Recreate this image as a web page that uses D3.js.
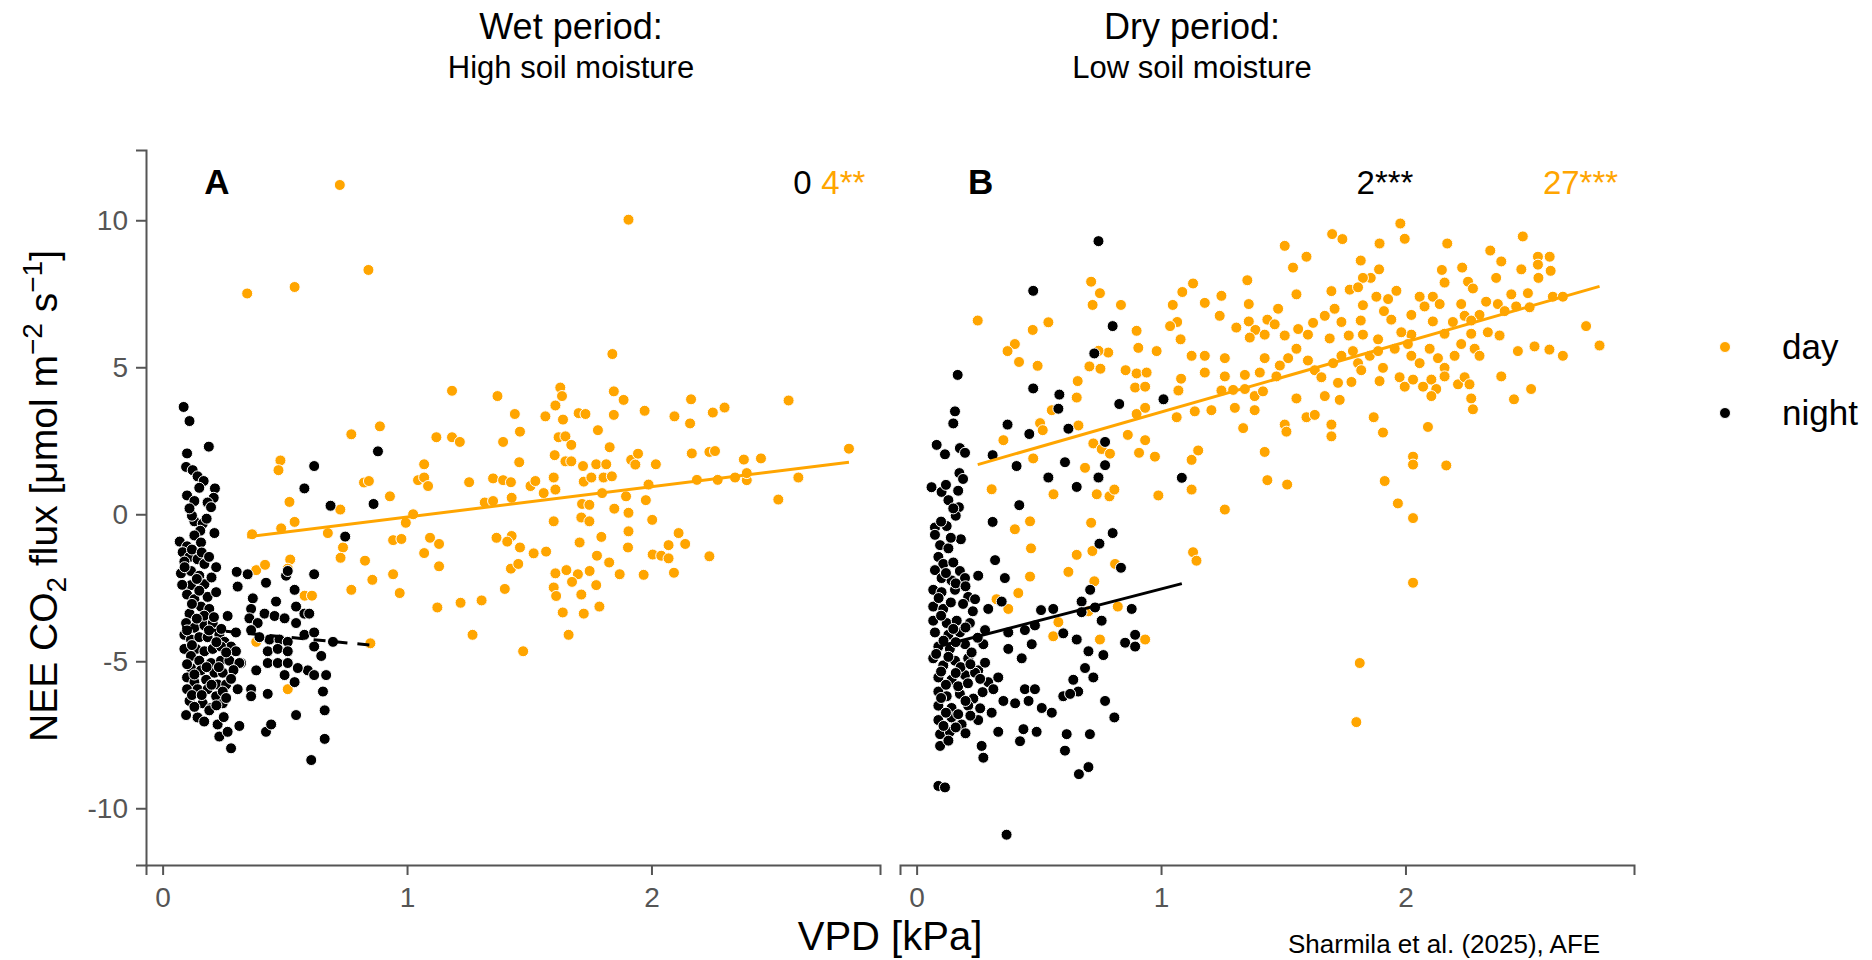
<!DOCTYPE html>
<html>
<head>
<meta charset="utf-8">
<script src="https://cdn.jsdelivr.net/npm/d3@7"></script>
<style>
    body { margin: 0; background: #fff; }
    text { font-family: "Liberation Sans", Arial, sans-serif; }
</style>
</head>
<body>
<svg id="chart" width="1872" height="960"></svg>
<script>
const periods = ['day', 'night']
const colours = { day: '#FFA500', night: '#000000' }
const xTicks = [0, 1, 2]
const yTicks = [-10, -5, 0, 5, 10]

// [VPD kPa, NEE umol m-2 s-1]
const nightWet = [[0.086,3.65],[0.11,3.17],[0.189,2.3],[0.10,2.07],[0.096,1.61],[0.123,1.5],[0.143,1.29],[0.168,1.13],[0.214,0.88],[0.209,0.56],[0.10,0.64],[0.13,0.45],[0.184,0.4],[0.198,0.24],[0.13,-0.24],[0.164,-0.32],[0.154,-0.56],[0.212,-0.64],[0.13,-0.72],[0.07,-0.93],[0.10,-1.09],[0.157,-0.96],[0.082,-1.29],[0.11,-1.45],[0.089,-1.61],[0.143,-1.53],[0.171,-1.69],[0.075,-2.01],[0.116,-1.93],[0.15,-2.09],[0.219,-1.8],[0.116,-2.41],[0.171,-2.38],[0.10,-2.73],[0.13,-2.89],[0.184,-2.81],[0.219,-2.65],[0.157,-3.14],[0.191,-3.22],[0.11,-3.38],[0.096,-3.7],[0.13,-3.86],[0.171,-3.78],[0.205,-3.7],[0.266,-3.46],[0.232,-4.1],[0.089,-4.1],[0.116,-4.26],[0.15,-4.18],[0.184,-4.18],[0.253,-4.34],[0.28,-4.5],[0.30,-4.02],[0.089,-4.58],[0.137,-4.58],[0.171,-4.66],[0.205,-4.58],[0.239,-4.5],[0.30,-4.66],[0.321,-5.06],[0.116,-4.82],[0.15,-4.98],[0.198,-5.06],[0.239,-4.98],[0.273,-4.98],[0.116,-5.23],[0.157,-5.31],[0.212,-5.39],[0.246,-5.39],[0.10,-5.55],[0.13,-5.71],[0.178,-5.63],[0.225,-5.79],[0.26,-5.79],[0.10,-5.95],[0.143,-5.95],[0.184,-5.95],[0.219,-6.19],[0.246,-6.03],[0.307,-5.95],[0.11,-6.35],[0.164,-6.43],[0.198,-6.59],[0.246,-6.43],[0.096,-6.83],[0.143,-6.91],[0.191,-6.67],[0.225,-7.15],[0.232,-7.56],[0.266,-7.4],[0.28,-7.96],[0.314,-7.2],[0.303,-1.96],[0.348,-2.04],[0.307,-2.46],[0.369,-2.86],[0.423,-2.33],[0.464,-2.97],[0.505,-2.09],[0.54,-2.57],[0.512,-1.93],[0.546,-3.14],[0.362,-3.22],[0.417,-3.38],[0.458,-3.46],[0.499,-3.54],[0.58,-3.38],[0.60,-3.38],[0.62,-2.04],[0.355,-3.54],[0.389,-3.7],[0.437,-4.26],[0.478,-4.26],[0.512,-4.34],[0.362,-3.94],[0.396,-4.18],[0.43,-4.66],[0.471,-4.58],[0.512,-4.66],[0.546,-3.7],[0.58,-4.1],[0.62,-4.02],[0.62,-4.5],[0.649,-4.82],[0.594,-5.31],[0.62,-5.47],[0.669,-5.47],[0.383,-5.31],[0.43,-5.06],[0.471,-5.06],[0.512,-5.06],[0.553,-5.23],[0.362,-5.95],[0.43,-6.11],[0.499,-5.47],[0.54,-5.71],[0.656,-6.03],[0.663,-6.67],[0.663,-7.64],[0.546,-6.83],[0.423,-7.4],[0.444,-7.15],[0.608,-8.36],[0.362,-6.19],[0.314,-5.06],[0.697,-4.34],[0.58,0.88],[0.62,1.64],[0.687,0.29],[0.747,-0.76],[0.863,0.35],[0.881,2.14],
    [0.12,-1.2],[0.16,-1.3],[0.19,-1.45],[0.09,-1.8],[0.14,-2.2],[0.2,-2.15],[0.08,-2.4],[0.15,-2.6],[0.12,-3.05],[0.17,-3.45],[0.21,-3.5],[0.14,-3.55],[0.1,-3.95],[0.19,-3.95],[0.24,-3.9],[0.12,-4.45],[0.22,-4.35],[0.26,-4.7],[0.1,-5.1],[0.18,-5.2],[0.23,-5.2],[0.29,-5.3],[0.13,-5.45],[0.2,-5.8],[0.28,-5.6],[0.12,-6.15],[0.16,-6.15],[0.26,-6.25],[0.13,-6.55],[0.22,-6.5],[0.17,-7.05],[0.25,-6.9],[0.12,-0.05],[0.15,0.9],[0.11,0.2],[0.18,-0.15]]

const dayWet = [[0.725,11.2],[0.346,7.51],[0.54,7.73],[0.842,8.31],[1.184,4.2],[1.37,4.02],[1.441,3.41],[0.772,2.72],[0.889,2.99],[1.12,2.62],[1.184,2.62],[1.216,2.46],[1.393,2.46],[1.462,2.81],[0.482,1.83],[0.474,1.5],[1.07,1.7],[1.459,1.77],[0.824,1.08],[0.844,1.13],[1.045,1.16],[1.07,1.25],[1.086,0.96],[1.254,1.09],[1.352,1.22],[1.393,1.16],[1.425,1.09],[0.519,0.42],[0.727,0.16],[0.93,0.61],[1.318,0.4],[1.352,0.45],[1.428,0.56],[0.366,-0.68],[0.485,-0.48],[0.54,-0.26],[0.676,-0.64],[0.995,-0.29],[1.025,0.0],[0.943,-0.88],[0.977,-0.84],[1.094,-0.8],[1.131,-1.01],[1.366,-0.8],[1.428,-0.74],[1.41,-0.93],[1.462,-1.13],[0.738,-1.13],[0.728,-1.48],[0.828,-1.58],[1.07,-1.32],[0.383,-1.9],[0.419,-1.72],[0.522,-1.54],[0.512,-1.85],[0.943,-2.04],[0.858,-2.23],[1.131,-1.77],[1.425,-1.85],[1.455,-1.69],[0.772,-2.57],[0.97,-2.68],[1.40,-2.54],[0.581,-2.77],[0.611,-2.77],[1.124,-3.17],[1.219,-3.01],[1.305,-2.93],[1.268,-4.1],[0.383,-4.34],[0.85,-4.39],[0.512,-5.95],[1.475,-4.66],
    [1.906,10.02],[1.84,5.45],[1.627,4.31],[1.634,4.02],[1.846,4.18],[1.886,3.89],[2.162,3.91],[2.299,3.63],[2.561,3.87],[1.607,3.7],[1.566,3.33],[1.638,3.22],[1.702,3.44],[1.73,3.41],[1.846,3.38],[1.972,3.52],[2.094,3.33],[2.251,3.46],[2.158,3.09],[1.781,2.86],[1.62,2.62],[1.648,2.65],[1.672,2.36],[1.829,2.28],[1.604,2.01],[1.648,1.8],[1.672,1.8],[1.72,1.64],[1.774,1.7],[1.815,1.7],[1.917,1.85],[1.945,2.06],[1.934,1.69],[2.018,1.7],[2.165,2.07],[2.237,2.12],[2.26,2.15],[2.378,1.86],[2.448,1.9],[2.808,2.23],[1.6,1.25],[1.723,1.11],[1.754,1.25],[1.804,1.25],[1.838,1.29],[1.505,0.96],[1.525,1.13],[1.559,0.72],[1.607,0.84],[1.798,0.72],[1.896,0.61],[1.988,1.01],[2.186,1.17],[2.271,1.17],[2.342,1.25],[2.39,1.16],[2.39,1.4],[2.601,1.25],[1.716,0.35],[1.746,0.32],[1.848,0.19],[1.977,0.48],[1.906,0.05],[2.519,0.5],[1.6,-0.24],[1.713,-0.11],[1.746,-0.24],[2.003,-0.19],[1.906,-0.58],[1.795,-0.77],[1.518,-1.33],[1.569,-1.27],[1.706,-0.96],[1.904,-1.13],[2.111,-0.64],[2.138,-1.01],[2.07,-1.05],[1.777,-1.41],[1.827,-1.64],[2.005,-1.37],[2.04,-1.41],[2.07,-1.5],[2.237,-1.43],[1.607,-2.01],[1.652,-1.9],[1.699,-2.04],[1.747,-1.93],[1.774,-2.41],[1.87,-2.04],[1.968,-2.06],[2.092,-1.99],[1.6,-2.49],[1.675,-2.3],[1.61,-2.78],[1.713,-2.73],[1.637,-3.34],[1.723,-3.38],[1.787,-3.14],[1.661,-4.1]]

const nightDry = [[0.744,9.29],[0.477,7.6],[0.168,4.74],[0.802,6.4],[0.727,5.47],[0.477,4.28],[0.584,4.07],[0.58,3.59],[1.01,3.91],[0.829,3.75],[0.157,3.5],[0.15,3.09],[0.372,3.05],[0.461,2.73],[0.621,2.91],[0.771,2.46],[0.082,2.36],[0.116,2.04],[0.177,2.25],[0.198,2.09],[0.311,2.01],[0.409,1.64],[0.607,1.77],[0.771,1.67],[0.175,1.4],[0.539,1.25],[0.744,1.25],[1.085,1.24],[0.061,0.92],[0.102,0.76],[0.17,0.8],[0.655,0.93],[0.13,0.48],[0.173,0.24],[0.42,0.31],[0.311,-0.26],[0.075,-0.45],[0.123,-0.4],[0.181,-0.85],[0.802,-0.64],[0.748,-1.0],[0.096,-1.05],[0.13,-1.16],[0.321,-1.56],[0.836,-1.82],[0.089,-1.45],[0.109,-1.69],[0.15,-1.64],[0.177,-1.93],[0.075,-1.9],[0.102,-2.17],[0.143,-2.25],[0.198,-2.17],[0.252,-2.09],[0.361,-2.17],[0.068,-2.57],[0.102,-2.65],[0.157,-2.57],[0.211,-2.81],[0.239,-2.89],[0.348,-2.97],[0.293,-3.22],[0.71,-2.57],[0.675,-2.97],[0.73,-3.17],[0.509,-3.26],[0.559,-3.22],[0.675,-3.33],[0.88,-3.22],[0.757,-3.62],[0.068,-3.14],[0.109,-3.22],[0.068,-3.62],[0.123,-3.7],[0.164,-3.62],[0.218,-3.7],[0.075,-4.02],[0.13,-4.1],[0.177,-4.02],[0.28,-3.94],[0.375,-4.02],[0.443,-3.94],[0.484,-3.78],[0.6,-4.05],[0.089,-4.5],[0.136,-4.58],[0.198,-4.42],[0.273,-4.42],[0.375,-4.58],[0.471,-4.42],[0.43,-4.9],[0.655,-4.26],[0.703,-4.66],[0.764,-4.79],[0.853,-4.37],[0.894,-4.1],[0.894,-4.5],[0.068,-4.9],[0.109,-5.14],[0.157,-4.98],[0.211,-4.9],[0.252,-5.31],[0.089,-5.55],[0.143,-5.63],[0.198,-5.47],[0.239,-5.39],[0.293,-5.71],[0.334,-5.55],[0.689,-5.23],[0.641,-5.63],[0.723,-5.55],[0.443,-5.95],[0.484,-5.95],[0.661,-6.03],[0.6,-6.19],[0.089,-6.03],[0.123,-6.19],[0.177,-6.11],[0.232,-6.27],[0.314,-5.95],[0.355,-6.35],[0.403,-6.43],[0.458,-6.35],[0.512,-6.59],[0.553,-6.75],[0.628,-6.11],[0.771,-6.35],[0.089,-6.51],[0.143,-6.59],[0.211,-6.51],[0.307,-6.75],[0.089,-7.0],[0.143,-6.91],[0.184,-7.15],[0.252,-7.0],[0.334,-7.4],[0.437,-7.31],[0.491,-7.4],[0.614,-7.48],[0.709,-7.48],[0.809,-6.91],[0.096,-7.48],[0.136,-7.4],[0.096,-7.88],[0.266,-7.88],[0.273,-8.28],[0.423,-7.72],[0.607,-8.04],[0.703,-8.6],[0.664,-8.84],[0.089,-9.24],[0.116,-9.29],[0.368,-10.9],
    [0.12,-2.0],[0.16,-2.35],[0.2,-2.45],[0.09,-2.85],[0.14,-3.0],[0.19,-3.05],[0.23,-3.3],[0.1,-3.45],[0.15,-3.9],[0.2,-3.85],[0.25,-4.2],[0.11,-4.3],[0.16,-4.35],[0.225,-4.7],[0.08,-4.75],[0.13,-4.85],[0.18,-5.2],[0.22,-5.1],[0.28,-5.05],[0.1,-5.35],[0.16,-5.4],[0.26,-5.6],[0.12,-5.8],[0.17,-5.85],[0.21,-5.75],[0.27,-6.05],[0.1,-6.25],[0.2,-6.35],[0.26,-6.6],[0.12,-6.75],[0.17,-6.8],[0.22,-6.85],[0.11,-7.2],[0.16,-7.25],[0.2,-7.45],[0.13,-7.7],[0.075,-0.7],[0.14,-0.8],[0.1,-0.25],[0.16,-0.05],[0.12,1.0],[0.19,1.2],[0.15,0.2]]

const dayDry = [[0.25,6.59],[0.714,7.91],[0.75,7.52],[0.72,7.12],[0.836,7.12],[0.475,6.27],[0.539,6.53],[1.048,7.12],[1.087,7.56],[1.066,6.54],[1.037,6.4],[0.9,6.24],[0.402,5.79],[0.372,5.55],[0.419,5.18],[0.495,5.05],[0.707,5.03],[0.752,4.95],[0.784,5.5],[0.744,5.56],[0.907,5.66],[0.982,5.55],[0.855,4.9],[0.9,4.79],[0.941,4.82],[1.08,5.95],[1.082,4.61],[0.659,4.53],[0.655,3.97],[0.894,4.31],[0.935,4.34],[1.071,4.21],[0.553,3.54],[0.9,3.41],[0.935,3.62],[1.064,3.3],[0.505,3.1],[0.516,2.86],[0.662,3.02],[0.355,2.52],[0.477,1.9],[0.689,1.58],[0.723,2.41],[0.757,2.22],[0.791,2.06],[0.864,2.7],[0.935,2.52],[0.91,2.09],[0.975,1.96],[0.307,0.85],[0.56,0.68],[0.737,0.68],[0.789,0.61],[0.809,0.84],[0.989,0.64],[0.402,-0.51],[0.464,-0.24],[0.714,-0.29],[0.468,-1.16],[0.655,-1.38],[0.719,-1.25],[0.621,-1.96],[0.464,-2.12],[0.727,-2.28],[0.416,-2.68],[0.375,-3.22],[0.812,-1.69],[0.823,-3.14],[0.58,-3.67],[0.559,-4.15],[0.75,-4.26],[0.935,-4.26],[0.327,-2.89],[0.703,-3.3],
    [1.979,9.89],[1.997,9.37],[1.7,9.53],[1.742,9.36],[1.894,9.21],[1.506,9.13],[2.171,9.21],[2.48,9.45],[2.347,8.97],[1.595,8.76],[1.817,8.63],[1.54,8.39],[2.392,8.6],[2.474,8.33],[2.542,8.76],[2.59,8.76],[2.594,8.28],[2.542,8.49],[2.544,8.04],[2.149,8.31],[2.232,8.39],[1.353,7.96],[1.131,7.85],[1.892,8.33],[1.858,8.04],[1.826,8.04],[1.772,7.64],[1.963,7.6],[2.16,7.88],[2.256,7.91],[2.276,7.68],[2.371,8.04],[1.247,7.43],[1.179,7.19],[1.359,7.15],[1.554,7.48],[1.697,7.59],[1.806,7.72],[1.881,7.4],[1.929,7.32],[2.058,7.4],[2.112,7.4],[2.433,7.48],[2.501,7.52],[2.603,7.4],[2.644,7.4],[2.228,7.15],[2.33,7.23],[2.378,7.15],[2.14,7.15],[2.078,7.07],[1.826,7.11],[1.912,6.91],[1.71,6.99],[1.479,6.99],[1.24,6.75],[1.359,6.56],[1.435,6.62],[2.453,7.07],[2.508,7.04],[2.303,6.78],[2.406,6.91],[2.242,6.75],[2.024,6.78],[1.942,6.62],[1.817,6.59],[1.738,6.54],[1.67,6.75],[1.622,6.51],[1.561,6.3],[1.308,6.35],[1.386,6.27],[1.465,6.46],[2.112,6.56],[2.194,6.54],[2.269,6.59],[2.739,6.4],[2.794,5.74],[2.337,6.19],[2.385,6.08],[2.269,6.14],[2.16,6.14],[2.024,6.11],[1.983,6.19],[1.888,5.95],[1.826,6.11],[1.768,6.08],[1.69,5.98],[1.601,6.11],[1.506,6.08],[1.424,6.11],[1.363,6.01],[1.261,5.31],[1.179,5.39],[1.125,5.39],[1.179,4.82],[1.261,4.69],[1.343,4.74],[1.404,4.82],[1.424,5.31],[1.486,5.06],[1.52,5.31],[1.554,5.63],[1.601,5.23],[1.629,4.9],[1.656,4.66],[1.704,5.14],[1.738,5.39],[1.785,5.55],[1.806,5.14],[1.854,5.39],[1.888,5.55],[1.908,4.98],[1.956,5.63],[2.01,5.79],[2.024,5.39],[2.058,5.14],[2.099,5.63],[2.133,5.31],[2.16,4.98],[2.201,5.39],[2.228,5.79],[2.283,5.63],[2.303,5.39],[2.46,5.55],[2.528,5.71],[2.589,5.6],[2.644,5.39],[2.392,4.69],[2.514,4.26],[2.444,3.91],[1.247,4.21],[1.295,4.23],[1.343,4.26],[1.383,4.02],[1.417,4.18],[1.472,4.69],[1.554,3.94],[1.67,4.02],[1.731,3.89],[1.724,4.47],[1.779,4.5],[1.819,4.9],[1.894,4.53],[1.976,4.66],[1.997,4.34],[2.031,4.58],[2.072,4.34],[2.106,4.58],[2.126,4.26],[2.16,4.69],[2.215,4.42],[2.242,4.66],[2.262,4.42],[2.269,3.94],[2.276,3.57],[2.106,4.02],[1.138,3.5],[1.206,3.54],[1.302,3.62],[1.383,3.54],[1.336,2.93],[1.506,3.05],[1.513,2.81],[1.595,3.3],[1.629,3.38],[1.697,3.05],[1.697,2.65],[1.87,3.3],[1.908,2.78],[2.092,2.97],[1.125,1.85],[1.152,2.17],[1.125,0.84],[1.424,2.12],[1.435,1.16],[1.516,1.01],[1.261,0.16],[2.031,1.96],[2.031,1.69],[2.167,1.66],[1.915,1.13],[1.969,0.37],[2.031,-0.13],[1.131,-1.29],[1.145,-1.58],[2.031,-2.33],[1.813,-5.06],[1.799,-7.07]]

// regression line ends [VPD, NEE]
const fitWetDay = [[0.346, -0.77], [2.808, 1.77]]
const fitWetNight = [[0.08, -3.84], [0.85, -4.45]]
const fitDryDay = [[0.25, 1.69], [2.794, 7.75]]
const fitDryNight = [[0.089, -4.5], [1.085, -2.36]]

const panels = [
    {
        label: 'A', labelX: 0.17, left: 146, title: 'Wet period:', subtitle: 'High soil moisture', titleX: 571,
        day: dayWet, night: nightWet, fitDay: fitWetDay, fitNight: fitWetNight, nightDashed: true,
        stats: [{ text: '0', x: 2.58, anchor: 'start', period: 'night' }, { text: '4**', x: 2.695, anchor: 'start', period: 'day' }],
        yAxis: true
    },
    {
        label: 'B', labelX: 0.21, left: 900, title: 'Dry period:', subtitle: 'Low soil moisture', titleX: 1192,
        day: dayDry, night: nightDry, fitDay: fitDryDay, fitNight: fitDryNight, nightDashed: false,
        stats: [{ text: '2***', x: 1.8, anchor: 'start', period: 'night' }, { text: '27***', x: 2.87, anchor: 'end', period: 'day' }],
        yAxis: false
    }
]

const svg = d3.select('#chart')
const panelWidth = 734
const axisColour = '#555555'
const pointRadius = 5.5
const y = d3.scaleLinear().domain([-11.93, 12.39]).range([865, 150])

const styleAxis = g => {
    g.select('.domain').attr('stroke', axisColour).attr('stroke-width', 2)
    g.selectAll('.tick line').attr('stroke', axisColour).attr('stroke-width', 2)
    g.selectAll('.tick text').attr('fill', axisColour).style('font-size', '28px')
}

panels.forEach(p => {
    const x = d3.scaleLinear().domain([-0.068, 2.935]).range([p.left, p.left + panelWidth])

    svg.append('g')
        .attr('transform', 'translate(0, 865)')
        .call(d3.axisBottom(x).tickValues(xTicks).tickSize(10).tickPadding(12).tickFormat(d => `${d}`))
        .call(styleAxis)

    if (p.yAxis) {
        svg.append('g')
            .attr('transform', `translate(${p.left}, 0)`)
            .call(d3.axisLeft(y).tickValues(yTicks).tickSize(10).tickPadding(8).tickFormat(d => `${d}`))
            .call(styleAxis)
    }

    periods.forEach(period => {
        svg.append('g')
            .selectAll('circle')
            .data(p[period])
            .join('circle')
            .attr('cx', d => x(d[0]))
            .attr('cy', d => y(d[1]))
            .attr('r', pointRadius)
            .attr('fill', colours[period])
            .attr('stroke', '#ffffff')
            .attr('stroke-width', 1)
    })

    const line = d3.line().x(d => x(d[0])).y(d => y(d[1]))
    svg.append('path')
        .attr('d', line(p.fitDay))
        .attr('fill', 'none')
        .attr('stroke', colours.day)
        .attr('stroke-width', 3)
    svg.append('path')
        .attr('d', line(p.fitNight))
        .attr('fill', 'none')
        .attr('stroke', colours.night)
        .attr('stroke-width', 3)
        .attr('stroke-dasharray', p.nightDashed ? '12,10' : null)

    svg.append('text')
        .attr('x', x(p.labelX))
        .attr('y', y(10.9))
        .style('font-size', '35px')
        .style('font-weight', 'bold')
        .text(p.label)

    p.stats.forEach(s => {
        svg.append('text')
            .attr('x', x(s.x))
            .attr('y', y(10.9))
            .attr('text-anchor', s.anchor)
            .attr('fill', colours[s.period])
            .style('font-size', '33px')
            .text(s.text)
    })

    svg.append('text')
        .attr('x', p.titleX)
        .attr('y', 39)
        .attr('text-anchor', 'middle')
        .style('font-size', '36px')
        .text(p.title)
    svg.append('text')
        .attr('x', p.titleX)
        .attr('y', 78)
        .attr('text-anchor', 'middle')
        .style('font-size', '31px')
        .text(p.subtitle)
})

// y axis title with sub/superscripts
const yTitle = svg.append('text')
    .attr('transform', 'translate(57, 496) rotate(-90)')
    .attr('text-anchor', 'middle')
    .style('font-size', '39px')
yTitle.append('tspan').text('NEE CO')
yTitle.append('tspan').attr('dy', 9).style('font-size', '28px').text('2')
yTitle.append('tspan').attr('dy', -9).text(' flux [μmol m')
yTitle.append('tspan').attr('dy', -15).style('font-size', '28px').text('−2')
yTitle.append('tspan').attr('dy', 15).text(' s')
yTitle.append('tspan').attr('dy', -15).style('font-size', '28px').text('−1')
yTitle.append('tspan').attr('dy', 15).text(']')

svg.append('text')
    .attr('x', 890)
    .attr('y', 950)
    .attr('text-anchor', 'middle')
    .style('font-size', '40px')
    .text('VPD [kPa]')

svg.append('text')
    .attr('x', 1288)
    .attr('y', 953)
    .style('font-size', '26px')
    .text('Sharmila et al. (2025), AFE')

// legend
periods.forEach((period, i) => {
    svg.append('circle')
        .attr('cx', 1725)
        .attr('cy', 347 + i * 66)
        .attr('r', pointRadius)
        .attr('fill', colours[period])
        .attr('stroke', '#ffffff')
        .attr('stroke-width', 1)
    svg.append('text')
        .attr('x', 1782)
        .attr('y', 359 + i * 66)
        .style('font-size', '35px')
        .text(period)
})
</script>
</body>
</html>
